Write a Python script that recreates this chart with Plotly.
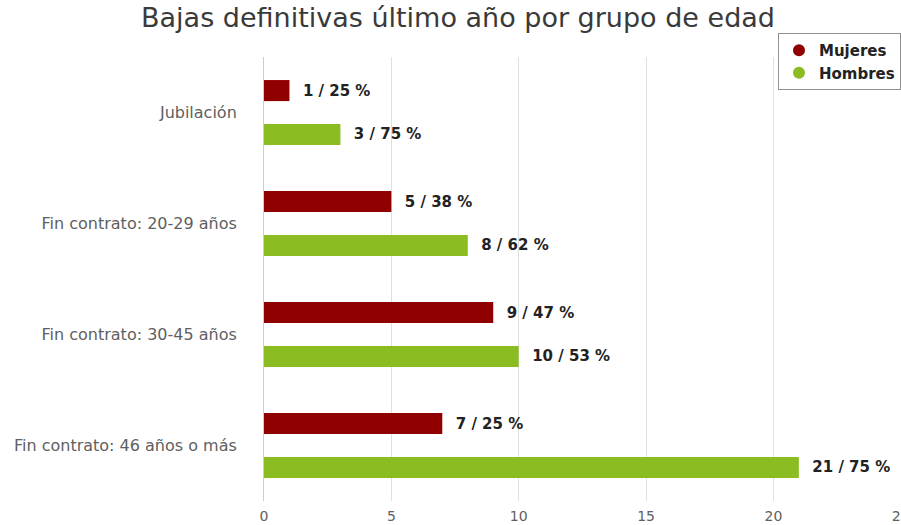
import plotly.graph_objects as go

categories = ["Jubilación", "Fin contrato: 20-29 años", "Fin contrato: 30-45 años", "Fin contrato: 46 años o más"]
mujeres = [1, 5, 9, 7]
hombres = [3, 8, 10, 21]
mujeres_pct = [25, 38, 47, 25]
hombres_pct = [75, 62, 53, 75]
x_ticks = [0, 5, 10, 15, 20, 25]

C_M = "#910000"
C_H = "#8bbc21"

W, H = 901, 525
L, R, T, B = 264, 0, 57, 24
PH = H - T - B

fig = go.Figure()
label_font = dict(family="DejaVu Sans", size=15, color="#222222", weight="bold")
pad = "\u00a0\u00a0"
fig.add_trace(go.Bar(
    y=categories, x=mujeres, orientation="h", name="Mujeres",
    marker=dict(color=C_M, line=dict(width=0)),
    text=[f"{pad}{v} / {p} %" for v, p in zip(mujeres, mujeres_pct)],
    textposition="outside", textfont=label_font, cliponaxis=False,
    showlegend=False, hoverinfo="x+y",
))
fig.add_trace(go.Bar(
    y=categories, x=hombres, orientation="h", name="Hombres",
    marker=dict(color=C_H, line=dict(width=0)),
    text=[f"{pad}{v} / {p} %" for v, p in zip(hombres, hombres_pct)],
    textposition="outside", textfont=label_font, cliponaxis=False,
    showlegend=False, hoverinfo="x+y",
))
# legend entries with round markers
for name, col in [("Mujeres", C_M), ("Hombres", C_H)]:
    fig.add_trace(go.Scatter(x=[None], y=[None], mode="markers", name=name,
                             marker=dict(color=col, size=14, symbol="circle")))

fig.update_layout(
    width=W, height=H,
    margin=dict(l=L, r=R, t=T, b=B, pad=0, autoexpand=False),
    paper_bgcolor="white", plot_bgcolor="white",
    barmode="group", bargap=0.21, bargroupgap=0.52,
    title=dict(text="Bajas definitivas último año por grupo de edad",
               x=458 / W, xanchor="center", y=1 - 18 / H, yanchor="middle",
               font=dict(family="DejaVu Sans", size=27, color="#3a3a3a")),
    legend=dict(x=1, xanchor="right", y=1 + (T - 33) / PH, yanchor="top",
                bgcolor="white", bordercolor="#909090", borderwidth=1,
                font=dict(family="DejaVu Sans", size=15, color="#222222", weight="bold"),
                itemsizing="constant", tracegroupgap=0),
    font=dict(family="DejaVu Sans"),
)
fig.update_xaxes(range=[0, 25.01], tickvals=x_ticks, showgrid=True, gridcolor="#e0e0e0",
                 gridwidth=1, zeroline=False, showline=False, ticklabeloverflow="allow",
                 automargin=False,
                 tickfont=dict(family="DejaVu Sans", size=14, color="#606060"),
                 ticks="", ticklabelstandoff=5)
fig.update_yaxes(autorange="reversed", showgrid=False, showline=True, linecolor="#c0d0e0",
                 linewidth=1, ticks="", ticklabelstandoff=23, automargin=False,
                 tickfont=dict(family="DejaVu Sans", size=16, color="#606060"))

fig.write_html("out.html", config={"displayModeBar": False},
               post_script="document.body.style.margin='0';")
